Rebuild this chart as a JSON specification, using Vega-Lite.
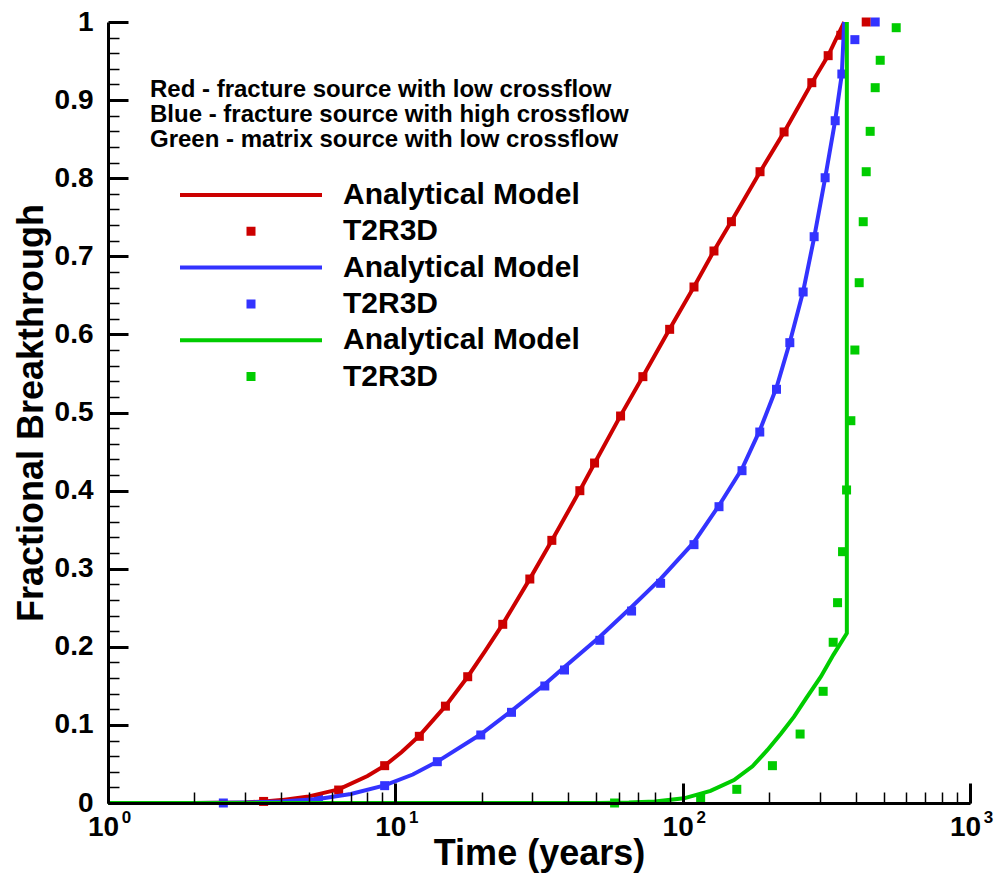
{
  "$schema": "https://vega.github.io/schema/vega-lite/v6.json",
  "width": 862,
  "height": 781,
  "autosize": {"type": "none"},
  "padding": {"left": 108, "top": 22, "right": 28, "bottom": 77},
  "background": "white",
  "config": {"view": {"stroke": null}, "font": "Liberation Sans"},
  "datasets": {
    "model": [
      {"series": "Red Analytical Model", "time": 2, "frac": 0},
      {"series": "Red Analytical Model", "time": 3, "frac": 0.0008},
      {"series": "Red Analytical Model", "time": 3.5, "frac": 0.002},
      {"series": "Red Analytical Model", "time": 4, "frac": 0.0037},
      {"series": "Red Analytical Model", "time": 5, "frac": 0.0085},
      {"series": "Red Analytical Model", "time": 6.35, "frac": 0.0175},
      {"series": "Red Analytical Model", "time": 8, "frac": 0.0345},
      {"series": "Red Analytical Model", "time": 9.18, "frac": 0.0478},
      {"series": "Red Analytical Model", "time": 10.5, "frac": 0.065},
      {"series": "Red Analytical Model", "time": 12.12, "frac": 0.086},
      {"series": "Red Analytical Model", "time": 14.94, "frac": 0.124},
      {"series": "Red Analytical Model", "time": 17.86, "frac": 0.1617},
      {"series": "Red Analytical Model", "time": 20.5, "frac": 0.194},
      {"series": "Red Analytical Model", "time": 23.65, "frac": 0.229},
      {"series": "Red Analytical Model", "time": 29.38, "frac": 0.287},
      {"series": "Red Analytical Model", "time": 35.05, "frac": 0.336},
      {"series": "Red Analytical Model", "time": 43.87, "frac": 0.4},
      {"series": "Red Analytical Model", "time": 49.36, "frac": 0.435},
      {"series": "Red Analytical Model", "time": 60.8, "frac": 0.496},
      {"series": "Red Analytical Model", "time": 72.7, "frac": 0.546},
      {"series": "Red Analytical Model", "time": 90.1, "frac": 0.607},
      {"series": "Red Analytical Model", "time": 109.5, "frac": 0.661},
      {"series": "Red Analytical Model", "time": 128.5, "frac": 0.707},
      {"series": "Red Analytical Model", "time": 147.8, "frac": 0.745},
      {"series": "Red Analytical Model", "time": 185.9, "frac": 0.808},
      {"series": "Red Analytical Model", "time": 225.4, "frac": 0.859},
      {"series": "Red Analytical Model", "time": 281.5, "frac": 0.922},
      {"series": "Red Analytical Model", "time": 320.9, "frac": 0.957},
      {"series": "Red Analytical Model", "time": 364.8, "frac": 1.0},
      {"series": "Blue Analytical Model", "time": 2, "frac": 0},
      {"series": "Blue Analytical Model", "time": 3, "frac": 0.0007},
      {"series": "Blue Analytical Model", "time": 4, "frac": 0.002},
      {"series": "Blue Analytical Model", "time": 5.4, "frac": 0.005},
      {"series": "Blue Analytical Model", "time": 7, "frac": 0.0115},
      {"series": "Blue Analytical Model", "time": 9.18, "frac": 0.0225},
      {"series": "Blue Analytical Model", "time": 11.5, "frac": 0.0365},
      {"series": "Blue Analytical Model", "time": 14, "frac": 0.053},
      {"series": "Blue Analytical Model", "time": 19.83, "frac": 0.088},
      {"series": "Blue Analytical Model", "time": 25.37, "frac": 0.118},
      {"series": "Blue Analytical Model", "time": 33.13, "frac": 0.152},
      {"series": "Blue Analytical Model", "time": 38.8, "frac": 0.174},
      {"series": "Blue Analytical Model", "time": 51.5, "frac": 0.213},
      {"series": "Blue Analytical Model", "time": 66.4, "frac": 0.251},
      {"series": "Blue Analytical Model", "time": 83.8, "frac": 0.287},
      {"series": "Blue Analytical Model", "time": 109.5, "frac": 0.334},
      {"series": "Blue Analytical Model", "time": 133.8, "frac": 0.381},
      {"series": "Blue Analytical Model", "time": 160.9, "frac": 0.428},
      {"series": "Blue Analytical Model", "time": 185.5, "frac": 0.477},
      {"series": "Blue Analytical Model", "time": 212.1, "frac": 0.532},
      {"series": "Blue Analytical Model", "time": 236, "frac": 0.59},
      {"series": "Blue Analytical Model", "time": 262.6, "frac": 0.655},
      {"series": "Blue Analytical Model", "time": 286.8, "frac": 0.724},
      {"series": "Blue Analytical Model", "time": 313.2, "frac": 0.8},
      {"series": "Blue Analytical Model", "time": 339.5, "frac": 0.874},
      {"series": "Blue Analytical Model", "time": 358, "frac": 0.933},
      {"series": "Blue Analytical Model", "time": 365, "frac": 1.0},
      {"series": "Green Analytical Model", "time": 1, "frac": 0},
      {"series": "Green Analytical Model", "time": 50, "frac": 0},
      {"series": "Green Analytical Model", "time": 65, "frac": 0.0005},
      {"series": "Green Analytical Model", "time": 80, "frac": 0.002},
      {"series": "Green Analytical Model", "time": 101, "frac": 0.006},
      {"series": "Green Analytical Model", "time": 125, "frac": 0.0155},
      {"series": "Green Analytical Model", "time": 150.9, "frac": 0.0294},
      {"series": "Green Analytical Model", "time": 175, "frac": 0.047},
      {"series": "Green Analytical Model", "time": 197.3, "frac": 0.0679},
      {"series": "Green Analytical Model", "time": 220, "frac": 0.089},
      {"series": "Green Analytical Model", "time": 244.2, "frac": 0.1105},
      {"series": "Green Analytical Model", "time": 270, "frac": 0.135},
      {"series": "Green Analytical Model", "time": 302.6, "frac": 0.1617},
      {"series": "Green Analytical Model", "time": 335, "frac": 0.19},
      {"series": "Green Analytical Model", "time": 372.7, "frac": 0.2173},
      {"series": "Green Analytical Model", "time": 372.7, "frac": 1.0}
    ],
    "sim": [
      {"series": "Red T2R3D", "time": 3.48, "frac": 0.002},
      {"series": "Red T2R3D", "time": 6.35, "frac": 0.0166},
      {"series": "Red T2R3D", "time": 9.18, "frac": 0.0478},
      {"series": "Red T2R3D", "time": 12.12, "frac": 0.0854},
      {"series": "Red T2R3D", "time": 14.94, "frac": 0.124},
      {"series": "Red T2R3D", "time": 17.86, "frac": 0.1617},
      {"series": "Red T2R3D", "time": 23.65, "frac": 0.2288},
      {"series": "Red T2R3D", "time": 29.38, "frac": 0.2868},
      {"series": "Red T2R3D", "time": 35.05, "frac": 0.3363},
      {"series": "Red T2R3D", "time": 43.87, "frac": 0.3999},
      {"series": "Red T2R3D", "time": 49.36, "frac": 0.4353},
      {"series": "Red T2R3D", "time": 60.8, "frac": 0.4955},
      {"series": "Red T2R3D", "time": 72.7, "frac": 0.5459},
      {"series": "Red T2R3D", "time": 90.1, "frac": 0.6065},
      {"series": "Red T2R3D", "time": 109.5, "frac": 0.6607},
      {"series": "Red T2R3D", "time": 128.5, "frac": 0.7068},
      {"series": "Red T2R3D", "time": 147.8, "frac": 0.7443},
      {"series": "Red T2R3D", "time": 185.9, "frac": 0.8083},
      {"series": "Red T2R3D", "time": 225.4, "frac": 0.8592},
      {"series": "Red T2R3D", "time": 281.5, "frac": 0.9223},
      {"series": "Red T2R3D", "time": 320.9, "frac": 0.9569},
      {"series": "Red T2R3D", "time": 355.2, "frac": 0.983},
      {"series": "Red T2R3D", "time": 435.3, "frac": 1.0},
      {"series": "Blue T2R3D", "time": 2.52, "frac": 0},
      {"series": "Blue T2R3D", "time": 5.4, "frac": 0.005},
      {"series": "Blue T2R3D", "time": 9.18, "frac": 0.0222},
      {"series": "Blue T2R3D", "time": 14.0, "frac": 0.0529},
      {"series": "Blue T2R3D", "time": 19.83, "frac": 0.0871},
      {"series": "Blue T2R3D", "time": 25.37, "frac": 0.1161},
      {"series": "Blue T2R3D", "time": 33.13, "frac": 0.1498},
      {"series": "Blue T2R3D", "time": 38.8, "frac": 0.1703},
      {"series": "Blue T2R3D", "time": 51.5, "frac": 0.2083},
      {"series": "Blue T2R3D", "time": 66.4, "frac": 0.2458},
      {"series": "Blue T2R3D", "time": 83.8, "frac": 0.2813},
      {"series": "Blue T2R3D", "time": 109.5, "frac": 0.3308},
      {"series": "Blue T2R3D", "time": 133.8, "frac": 0.3794},
      {"series": "Blue T2R3D", "time": 160.9, "frac": 0.4255},
      {"series": "Blue T2R3D", "time": 185.5, "frac": 0.475},
      {"series": "Blue T2R3D", "time": 212.1, "frac": 0.5297},
      {"series": "Blue T2R3D", "time": 236, "frac": 0.5894},
      {"series": "Blue T2R3D", "time": 262.6, "frac": 0.6543},
      {"series": "Blue T2R3D", "time": 286.8, "frac": 0.7251},
      {"series": "Blue T2R3D", "time": 313.2, "frac": 0.8006},
      {"series": "Blue T2R3D", "time": 339.5, "frac": 0.8736},
      {"series": "Blue T2R3D", "time": 358.1, "frac": 0.9334},
      {"series": "Blue T2R3D", "time": 397.5, "frac": 0.9774},
      {"series": "Blue T2R3D", "time": 467.8, "frac": 1.0},
      {"series": "Green T2R3D", "time": 57.95, "frac": 0},
      {"series": "Green T2R3D", "time": 115.5, "frac": 0.006},
      {"series": "Green T2R3D", "time": 154.3, "frac": 0.0175},
      {"series": "Green T2R3D", "time": 205.3, "frac": 0.0478},
      {"series": "Green T2R3D", "time": 256.3, "frac": 0.0883},
      {"series": "Green T2R3D", "time": 308.3, "frac": 0.143},
      {"series": "Green T2R3D", "time": 334.1, "frac": 0.2058},
      {"series": "Green T2R3D", "time": 346, "frac": 0.2565},
      {"series": "Green T2R3D", "time": 360.1, "frac": 0.3218},
      {"series": "Green T2R3D", "time": 371.9, "frac": 0.4008},
      {"series": "Green T2R3D", "time": 384.9, "frac": 0.4895},
      {"series": "Green T2R3D", "time": 397.5, "frac": 0.58},
      {"series": "Green T2R3D", "time": 411.5, "frac": 0.6662},
      {"series": "Green T2R3D", "time": 425, "frac": 0.7443},
      {"series": "Green T2R3D", "time": 435.3, "frac": 0.8083},
      {"series": "Green T2R3D", "time": 449.4, "frac": 0.86},
      {"series": "Green T2R3D", "time": 467.8, "frac": 0.9159},
      {"series": "Green T2R3D", "time": 487, "frac": 0.951},
      {"series": "Green T2R3D", "time": 553.6, "frac": 0.9927}
    ]
  },
  "layer": [
    {
      "data": {"name": "sim"},
      "mark": {"type": "point", "filled": true, "size": 20164, "opacity": 1, "strokeWidth": 0},
      "encoding": {
        "x": {
          "field": "time", "type": "quantitative",
          "scale": {"type": "log", "domain": [1, 1000], "nice": false},
          "axis": {
            "orient": "bottom", "values": [1, 10, 100, 1000],
            "labelExpr": "'10'",
            "tickSize": -20, "tickWidth": 3, "tickColor": "black",
            "domainColor": "black", "domainWidth": 3, "grid": false,
            "labelFont": "Liberation Sans", "labelFontSize": 28, "labelFontWeight": "bold", "labelColor": "black",
            "labelPadding": 30, "labelOffset": -5, "labelFlush": false, "labelOverlap": false,
            "title": "Time (years)", "titleFont": "Liberation Sans", "titleFontSize": 36, "titleFontWeight": "bold", "titleColor": "black",
            "titlePadding": -5, "zindex": 1
          }
        },
        "y": {
          "field": "frac", "type": "quantitative",
          "scale": {"domain": [0, 1], "nice": false, "zero": false},
          "axis": {
            "orient": "left", "values": [0, 0.1, 0.2, 0.3, 0.4, 0.5, 0.6, 0.7, 0.8, 0.9, 1],
            "format": "~g",
            "tickSize": -20, "tickWidth": 3, "tickColor": "black",
            "domainColor": "black", "domainWidth": 3, "grid": false,
            "labelFont": "Liberation Sans", "labelFontSize": 28, "labelFontWeight": "bold", "labelColor": "black",
            "labelPadding": 35, "labelFlush": false, "labelOverlap": false,
            "title": "Fractional Breakthrough", "titleFont": "Liberation Sans", "titleFontSize": 36, "titleFontWeight": "bold", "titleColor": "black",
            "titlePadding": 4, "zindex": 1
          }
        },
        "color": {
          "field": "series", "type": "nominal",
          "scale": {
            "domain": ["Red Analytical Model", "Red T2R3D", "Blue Analytical Model", "Blue T2R3D", "Green Analytical Model", "Green T2R3D"],
            "range": ["#cc0000", "#cc0000", "#3333ff", "#3333ff", "#00cc00", "#00cc00"]
          },
          "legend": {
            "orient": "none", "legendX": 42, "legendY": 56, "padding": 0,
            "title": ["Red - fracture source with low crossflow", "Blue - fracture source with high crossflow", "Green - matrix source with low crossflow"],
            "titleFont": "Liberation Sans", "titleFontSize": 24, "titleFontWeight": "bold", "titleColor": "black",
            "titleLineHeight": 25, "titleAnchor": "start", "titlePadding": 28, "titleLimit": 700,
            "labelFont": "Liberation Sans", "labelFontSize": 30, "labelFontWeight": "bold", "labelColor": "black",
            "labelOffset": 21, "labelLimit": 500,
            "labelExpr": "indexof(datum.label, 'Analytical') >= 0 ? 'Analytical Model' : 'T2R3D'",
            "symbolSize": 20164, "symbolOffset": 30, "clipHeight": 30, "rowPadding": 6.3,
            "symbolStrokeWidth": 0, "symbolOpacity": 1
          }
        },
        "shape": {
          "field": "series", "type": "nominal",
          "scale": {
            "domain": ["Red Analytical Model", "Red T2R3D", "Blue Analytical Model", "Blue T2R3D", "Green Analytical Model", "Green T2R3D"],
            "range": [
              "M-1,-0.0282H1V0.0282H-1Z", "M-0.0634,-0.0634H0.0634V0.0634H-0.0634Z",
              "M-1,-0.0282H1V0.0282H-1Z", "M-0.0634,-0.0634H0.0634V0.0634H-0.0634Z",
              "M-1,-0.0282H1V0.0282H-1Z", "M-0.0634,-0.0634H0.0634V0.0634H-0.0634Z"
            ]
          }
        }
      }
    },
    {
      "data": {"name": "model"},
      "mark": {"type": "line", "strokeWidth": 4},
      "encoding": {
        "x": {
          "field": "time", "type": "quantitative",
          "scale": {"type": "log", "domain": [1, 1000], "nice": false},
          "axis": {
            "orient": "bottom",
            "values": [1, 2, 3, 4, 5, 6, 7, 8, 9, 10, 20, 30, 40, 50, 60, 70, 80, 90, 100, 200, 300, 400, 500, 600, 700, 800, 900, 1000],
            "labelExpr": "datum.value == 1 ? '0' : datum.value == 10 ? '1' : datum.value == 100 ? '2' : datum.value == 1000 ? '3' : ''",
            "tickSize": -11, "tickWidth": 1.5, "tickColor": "black",
            "labelFont": "Liberation Sans", "labelFontSize": 17, "labelFontWeight": "bold", "labelColor": "black",
            "labelPadding": 17, "labelOffset": 18, "labelFlush": false, "labelOverlap": false,
            "domain": false, "grid": false, "title": null, "zindex": 1
          }
        },
        "y": {
          "field": "frac", "type": "quantitative",
          "scale": {"domain": [0, 1], "nice": false, "zero": false},
          "axis": {
            "orient": "left",
            "values": [0.02, 0.04, 0.06, 0.08, 0.12, 0.14, 0.16, 0.18, 0.22, 0.24, 0.26, 0.28, 0.32, 0.34, 0.36, 0.38, 0.42, 0.44, 0.46, 0.48, 0.52, 0.54, 0.56, 0.58, 0.62, 0.64, 0.66, 0.68, 0.72, 0.74, 0.76, 0.78, 0.82, 0.84, 0.86, 0.88, 0.92, 0.94, 0.96, 0.98],
            "tickSize": -11, "tickWidth": 1.5, "tickColor": "black",
            "domain": false, "labels": false, "grid": false, "title": null, "zindex": 1
          }
        },
        "color": {"field": "series", "type": "nominal"},
        "order": [{"field": "time", "type": "quantitative"}, {"field": "frac", "type": "quantitative"}]
      }
    }
  ],
  "resolve": {"axis": {"x": "independent", "y": "independent"}}
}
